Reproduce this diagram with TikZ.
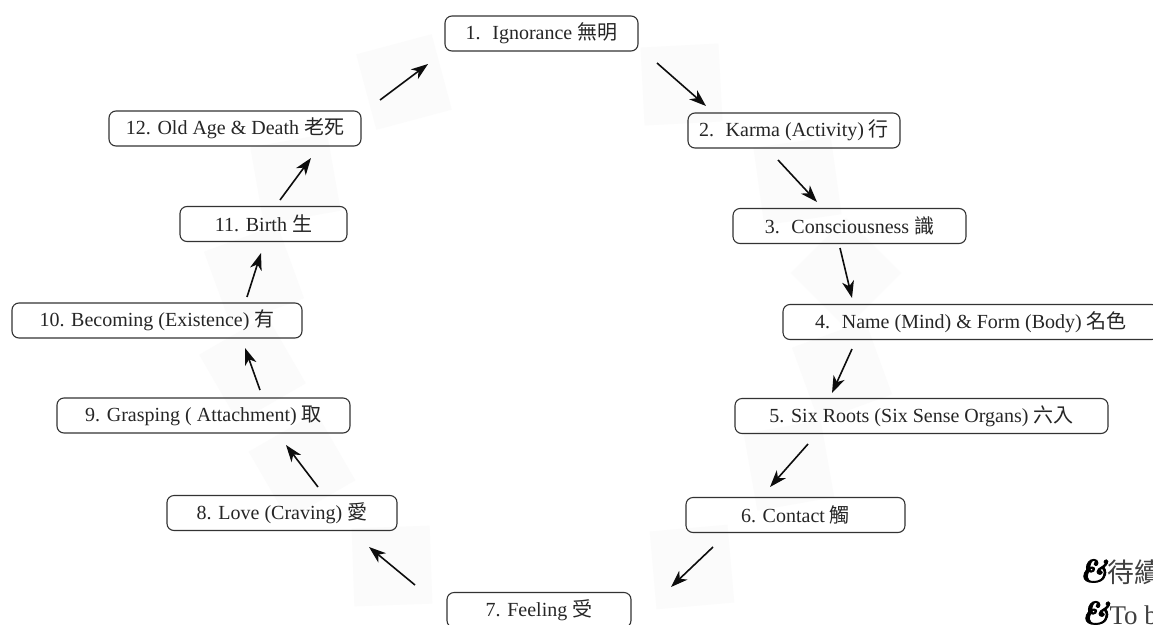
\documentclass[tikz,border=0pt]{standalone}
\usepackage{fontspec}
\newfontfamily\labfont{Liberation Serif}
\newfontfamily\cjk{Noto Sans CJK TC}
\newfontfamily\ornfont[FakeBold=2.5]{lmroman10-bolditalic.otf}
\usetikzlibrary{arrows.meta,calc}
\tikzset{
  stage/.style={draw=black!80, line width=1.1pt, rounded corners=7pt,
    minimum height=35pt, inner sep=0pt, text=black!85,
    font=\labfont\fontsize{20}{24}\selectfont},
  flow/.style={-{Stealth[length=17pt,width=12pt,inset=5pt]}, line width=1.6pt, draw=black!95},
  haze/.style={fill=black!1.5, draw=none, minimum size=78pt, inner sep=0pt},
  tbc/.style={anchor=base west, inner sep=0pt, text=black!75,
    font=\fontsize{27}{30}\selectfont},
}
\newcommand\ornmark{{\ornfont\color{black}\fontsize{32}{30}\selectfont\&}}
\begin{document}
\begin{tikzpicture}[x=1pt,y=-1pt]
\clip (0,0) rectangle (1153,624);
\fill[white] (0,0) rectangle (1153,624);
% arrow end points
\coordinate (s1) at (657,63);   \coordinate (t1) at (706,106);
\coordinate (s2) at (778,160);  \coordinate (t2) at (817,202);
\coordinate (s3) at (840,248);  \coordinate (t3) at (852,298);
\coordinate (s4) at (852,349);  \coordinate (t4) at (832,393);
\coordinate (s5) at (808,444);  \coordinate (t5) at (770,487);
\coordinate (s6) at (713,547);  \coordinate (t6) at (671,587);
\coordinate (s7) at (415,585);  \coordinate (t7) at (369,547);
\coordinate (s8) at (318,487);  \coordinate (t8) at (286,445);
\coordinate (s9) at (260,390);  \coordinate (t9) at (245,348);
\coordinate (s10) at (247,297); \coordinate (t10) at (261,253);
\coordinate (s11) at (280,200); \coordinate (t11) at (311,158);
\coordinate (s12) at (380,100); \coordinate (t12) at (428,64);
% faint backdrops behind arrows
\node[haze, rotate=3]  (h1)  at ($(s1)!0.5!(t1)$) {};
\node[haze, rotate=8]  (h2)  at ($(s2)!0.5!(t2)$) {};
\node[haze, rotate=45] (h3)  at ($(s3)!0.5!(t3)$) {};
\node[haze, rotate=20] (h4)  at ($(s4)!0.5!(t4)$) {};
\node[haze, rotate=10] (h5)  at ($(s5)!0.5!(t5)$) {};
\node[haze, rotate=5]  (h6)  at ($(s6)!0.5!(t6)$) {};
\node[haze, rotate=2]  (h7)  at ($(s7)!0.5!(t7)$) {};
\node[haze, rotate=30] (h8)  at ($(s8)!0.5!(t8)$) {};
\node[haze, rotate=30] (h9)  at ($(s9)!0.5!(t9)$) {};
\node[haze, rotate=20] (h10) at ($(s10)!0.5!(t10)$) {};
\node[haze, rotate=10] (h11) at ($(s11)!0.5!(t11)$) {};
\node[haze, rotate=15] (h12) at ($(s12)!0.5!(t12)$) {};
% stages
\node[stage, minimum width=193pt] (n1)  at (541.5,33.5) {1.~ Ignorance {\cjk 無明}};
\node[stage, minimum width=212pt] (n2)  at (794,130.5)  {2.~ Karma (Activity) {\cjk 行}};
\node[stage, minimum width=233pt] (n3)  at (849.5,226)  {3.~ Consciousness {\cjk 識}};
\node[stage, minimum width=376pt] (n4)  at (971,322)    {4.~ Name (Mind) \& Form (Body) {\cjk 名色}};
\node[stage, minimum width=373pt] (n5)  at (921.5,416)  {5. Six Roots (Six Sense Organs) {\cjk 六入}};
\node[stage, minimum width=219pt] (n6)  at (795.5,515)  {6. Contact {\cjk 觸}};
\node[stage, minimum width=184pt] (n7)  at (539,610)    {7. Feeling {\cjk 受}};
\node[stage, minimum width=230pt] (n8)  at (282,513)    {8. Love (Craving) {\cjk 愛}};
\node[stage, minimum width=293pt] (n9)  at (203.5,415.5){9. Grasping ( Attachment) {\cjk 取}};
\node[stage, minimum width=290pt] (n10) at (157,320.5)  {10. Becoming (Existence) {\cjk 有}};
\node[stage, minimum width=167pt] (n11) at (263.5,224)  {11. Birth {\cjk 生}};
\node[stage, minimum width=252pt] (n12) at (235,128.5)  {12. Old Age \& Death {\cjk 老死}};
% arrows
\foreach \i in {1,...,12} { \draw[flow] (s\i) -- (t\i); }
% trailing note
\node[tbc] (tbc1) at (1079,582) {\ornmark{\cjk 待續}};
\node[tbc] (tbc2) at (1081,624) {\ornmark{\labfont To be continued}};
\end{tikzpicture}
\end{document}
